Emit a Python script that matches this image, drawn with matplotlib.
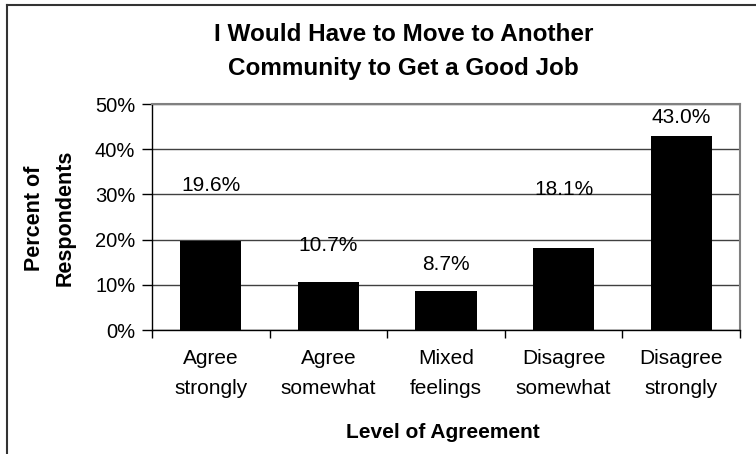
import matplotlib
matplotlib.use("Agg")
from matplotlib import pyplot as plt
from matplotlib.lines import Line2D
from matplotlib.ticker import FuncFormatter, FixedLocator
import numpy as np

plt.rcParams['font.family'] = ['Liberation Sans', 'DejaVu Sans']

categories = ["Agree\nstrongly", "Agree\nsomewhat", "Mixed\nfeelings",
              "Disagree\nsomewhat", "Disagree\nstrongly"]
percents = [19.6, 10.7, 8.7, 18.1, 43.0]
value_labels = ["19.6%", "10.7%", "8.7%", "18.1%", "43.0%"]
y_ticks = [0, 10, 20, 30, 40, 50]

# how far each value label floats above its bar (in % units)
label_lift = [12.3, 7.9, 5.7, 12.9, 4.1]

fig = plt.figure(figsize=(7.56, 4.54), dpi=100)
ax = fig.add_axes([0.2011, 0.2731, 0.7778, 0.4978])

x = np.arange(len(categories))
ax.bar(x, percents, width=0.52, color='black', zorder=3)

for xi, v, lab, lift in zip(x, percents, value_labels, label_lift):
    ax.text(xi, v + lift, lab, ha='center', va='center', fontsize=15)

ax.set_xlim(-0.5, len(categories) - 0.5)
ax.set_ylim(0, 50)
ax.set_yticks(y_ticks)
ax.yaxis.set_major_formatter(FuncFormatter(lambda v, p: f"{v:.0f}%"))
ax.grid(axis='y', color='#404040', linewidth=1.0, zorder=0)

# categories as labels, ticks at the boundaries
ax.xaxis.set_major_locator(FixedLocator(np.arange(len(categories) + 1) - 0.5))
ax.set_xticklabels([])
ax.set_xticks(x, minor=True)
ax.set_xticklabels(categories, minor=True, fontsize=15, linespacing=1.7)
ax.tick_params(axis='x', which='major', direction='out', length=6, width=1, color='black')
ax.tick_params(axis='x', which='minor', length=0, pad=14)
ax.tick_params(axis='y', direction='out', length=7, width=1, pad=5, labelsize=14.5)

for s in ['top', 'right']:
    ax.spines[s].set_color('#808080')
    ax.spines[s].set_linewidth(1.5)
for s in ['left', 'bottom']:
    ax.spines[s].set_color('black')
    ax.spines[s].set_linewidth(1.0)

fig.text(0.534, 0.887, "I Would Have to Move to Another\nCommunity to Get a Good Job",
         ha='center', va='center', fontsize=17.5, fontweight='bold', linespacing=1.6)
fig.text(0.586, 0.048, "Level of Agreement", ha='center', va='center',
         fontsize=15, fontweight='bold')
fig.text(0.066, 0.52, "Percent of\nRespondents", ha='center', va='center',
         rotation=90, fontsize=15.5, fontweight='bold', linespacing=1.65)

# outer chart frame (only the top and left edges are in view)
fig.add_artist(Line2D([0.0093, 1.0], [0.990, 0.990], color='#333333', linewidth=1.5,
                      transform=fig.transFigure))
fig.add_artist(Line2D([0.0093, 0.0093], [0.0, 0.990], color='#333333', linewidth=1.5,
                      transform=fig.transFigure))

fig.savefig('out.png', dpi=100)
